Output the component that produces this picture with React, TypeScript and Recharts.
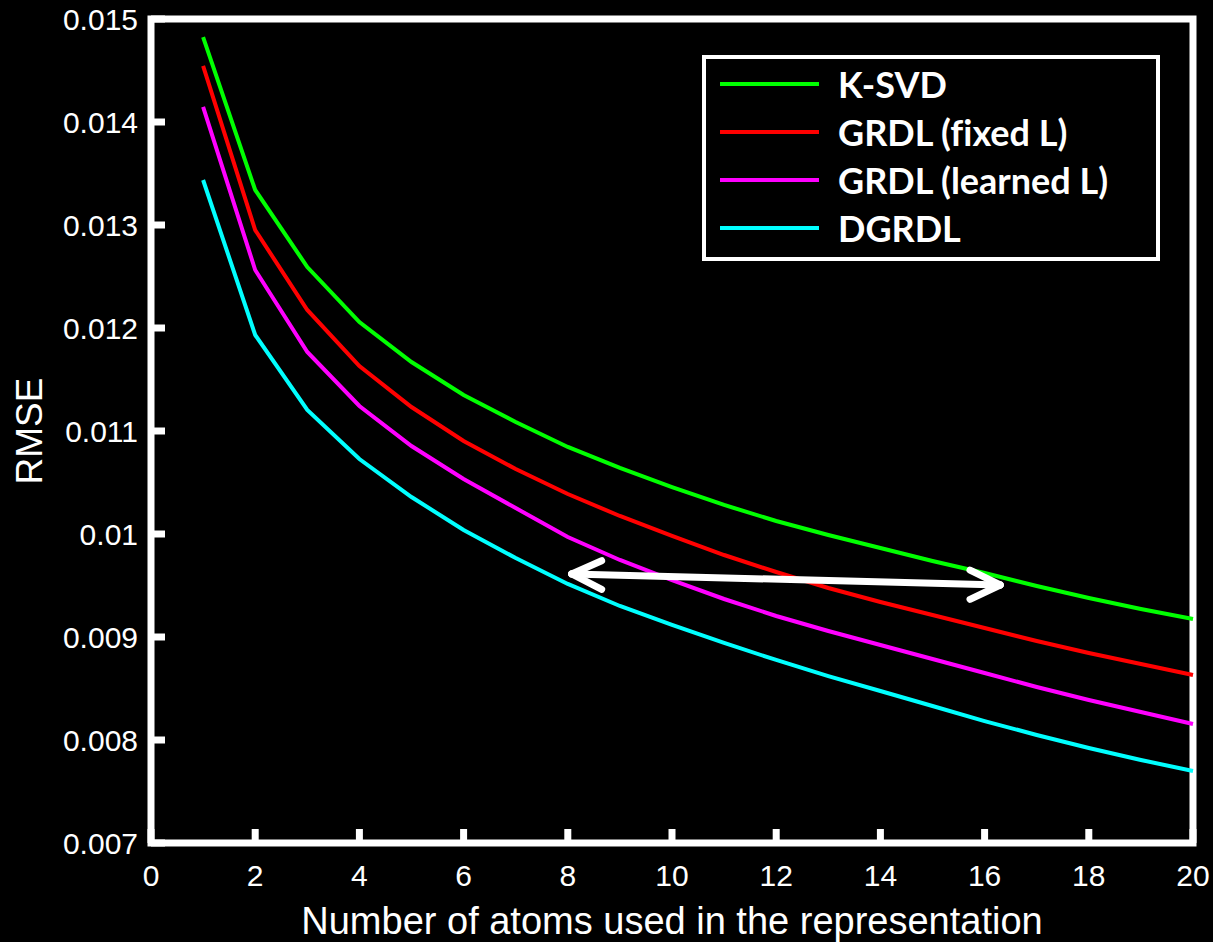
import React from "react";
import {
  LineChart,
  Line,
  XAxis,
  YAxis,
  Legend,
  ReferenceArea,
  ReferenceLine,
  Label,
} from "recharts";

// number of atoms
const atoms = [1, 2, 3, 4, 5, 6, 7, 8, 9, 10, 11, 12, 13, 14, 15, 16, 17, 18, 19, 20];

const kSvd = [
  0.014825, 0.01334, 0.012592, 0.012058, 0.01167, 0.01135, 0.011087, 0.010845, 0.010641, 0.010456,
  0.010282, 0.010126, 0.00999, 0.009864, 0.009738, 0.009621, 0.009495, 0.009379, 0.009272, 0.009175,
];
const grdlFixed = [
  0.014544, 0.012951, 0.012175, 0.011631, 0.011233, 0.010903, 0.010631, 0.010388, 0.010175, 0.009981,
  0.009796, 0.009631, 0.009476, 0.00934, 0.009214, 0.009087, 0.008961, 0.008845, 0.008738, 0.008631,
];
const grdlLearned = [
  0.014146, 0.012563, 0.011767, 0.011243, 0.010854, 0.010534, 0.010252, 0.009971, 0.009748, 0.009553,
  0.009369, 0.009204, 0.009058, 0.008922, 0.008786, 0.00865, 0.008515, 0.008388, 0.008272, 0.008155,
];
const dgrdl = [
  0.013437, 0.011932, 0.011204, 0.010728, 0.010359, 0.010039, 0.009767, 0.009515, 0.009301, 0.009117,
  0.008942, 0.008777, 0.008621, 0.008476, 0.00833, 0.008184, 0.008049, 0.007922, 0.007806, 0.007699,
];

const xTicks = [0, 2, 4, 6, 8, 10, 12, 14, 16, 18, 20];
const yTicks = [0.007, 0.008, 0.009, 0.01, 0.011, 0.012, 0.013, 0.014, 0.015];
const yTickLabels = ["0.007", "0.008", "0.009", "0.01", "0.011", "0.012", "0.013", "0.014", "0.015"];

// double-headed arrow annotation, in data units: [x1, y1, x2, y2]
const arrowSegments = [
  [8.075, 0.009612, 16.3, 0.009505],
  [8.075, 0.009612, 8.65, 0.009741],
  [8.075, 0.009612, 8.65, 0.009463],
  [16.3, 0.009505, 15.72, 0.00965],
  [16.3, 0.009505, 15.72, 0.009366],
];

const series = [
  { key: "ksvd", name: "K-SVD", color: "#00ff00", values: kSvd },
  { key: "fixed", name: "GRDL (fixed L)", color: "#ff0000", values: grdlFixed },
  { key: "learned", name: "GRDL (learned L)", color: "#ff00ff", values: grdlLearned },
  { key: "dgrdl", name: "DGRDL", color: "#00ffff", values: dgrdl },
];

const data = atoms.map((n, i) => {
  const row: Record<string, number> = { n };
  series.forEach((s) => {
    row[s.key] = s.values[i];
  });
  return row;
});

const axisFont = "'Liberation Sans', Arial, sans-serif";
const tickStyle = { fill: "#fff", fontSize: 30, fontFamily: axisFont };
const tickLine = { stroke: "#fff", strokeWidth: 7 };

function formatY(v: number) {
  const i = yTicks.findIndex((t) => Math.abs(t - v) < 1e-9);
  return i >= 0 ? yTickLabels[i] : String(v);
}

function YTitle(props: any) {
  const vb = props.viewBox;
  const cx = vb.x + 29;
  const cy = vb.y + vb.height / 2;
  return (
    <text
      x={cx}
      y={cy}
      transform={`rotate(-90 ${cx} ${cy})`}
      textAnchor="middle"
      dominantBaseline="central"
      fill="#fff"
      fontSize={37}
      fontFamily={axisFont}
    >
      RMSE
    </text>
  );
}

// legend keeps the series order (not sorted)
function LegendBox() {
  return (
    <div
      style={{
        width: 458,
        height: 206,
        boxSizing: "border-box",
        border: "4px solid #fff",
        background: "#000",
        paddingTop: 1,
        paddingLeft: 14,
      }}
    >
      {series.map((s) => (
        <div key={s.key} style={{ display: "flex", alignItems: "center", height: 48 }}>
          <span style={{ display: "inline-block", width: 99, height: 4, background: s.color }} />
          <span
            style={{
              marginLeft: 19,
              color: "#fff",
              fontFamily: "Lato, 'Open Sans', sans-serif",
              fontWeight: 700,
              fontSize: 36,
              lineHeight: "48px",
              fontVariantLigatures: "none",
              whiteSpace: "nowrap",
            }}
          >
            {s.name}
          </span>
        </div>
      ))}
    </div>
  );
}

export default function App() {
  return (
    <div style={{ position: "absolute", left: 0, top: 0, width: 1213, height: 942, background: "#000" }}>
      <LineChart
        width={1213}
        height={942}
        data={data}
        margin={{ top: 19, right: 20, bottom: 0, left: 0 }}
      >
        <XAxis
          dataKey="n"
          type="number"
          domain={[0, 20]}
          ticks={xTicks}
          interval={0}
          height={99}
          axisLine={false}
          tickSize={-14}
          tickMargin={36}
          tickLine={tickLine}
          tick={tickStyle}
        >
          <Label
            value="Number of atoms used in the representation"
            position="insideBottom"
            offset={8}
            fill="#fff"
            fontSize={38}
            fontFamily={axisFont}
          />
        </XAxis>
        <XAxis
          xAxisId="top"
          dataKey="n"
          type="number"
          orientation="top"
          domain={[0, 20]}
          ticks={xTicks}
          interval={0}
          height={0}
          axisLine={false}
          tickSize={-14}
          tickLine={tickLine}
          tick={false}
        />
        <YAxis
          type="number"
          domain={[0.007, 0.015]}
          ticks={yTicks}
          interval={0}
          width={151}
          axisLine={false}
          tickSize={-14}
          tickMargin={27}
          tickLine={tickLine}
          tick={tickStyle}
          tickFormatter={formatY}
          label={<YTitle />}
        />
        <YAxis
          yAxisId="right"
          orientation="right"
          type="number"
          domain={[0.007, 0.015]}
          ticks={yTicks}
          interval={0}
          width={0}
          axisLine={false}
          tickSize={-14}
          tickLine={tickLine}
          tick={false}
        />
        <ReferenceArea
          x1={0}
          x2={20}
          y1={0.007}
          y2={0.015}
          fill="none"
          fillOpacity={0}
          stroke="#fff"
          strokeWidth={7}
        />
        {series.map((s) => (
          <Line
            key={s.key}
            dataKey={s.key}
            name={s.name}
            type="linear"
            stroke={s.color}
            strokeWidth={4}
            dot={false}
            activeDot={false}
            isAnimationActive={false}
          />
        ))}
        {arrowSegments.map((seg, i) => (
          <ReferenceLine
            key={i}
            segment={[
              { x: seg[0], y: seg[1] },
              { x: seg[2], y: seg[3] },
            ]}
            stroke="#fff"
            strokeWidth={7}
            strokeLinecap="round"
          />
        ))}
        <Legend
          layout="horizontal"
          verticalAlign="middle"
          align="center"
          content={<LegendBox />}
          wrapperStyle={{ top: 55, left: 702, width: 458, height: 206 }}
        />
      </LineChart>
    </div>
  );
}
